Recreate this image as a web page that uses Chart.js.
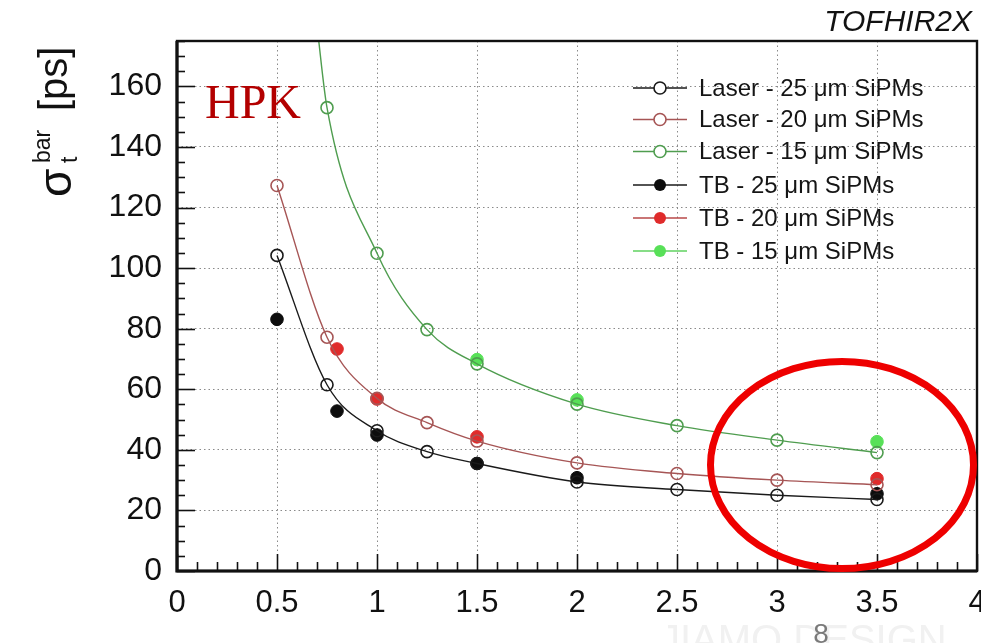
<!DOCTYPE html>
<html>
<head>
<meta charset="utf-8">
<script src="https://cdn.jsdelivr.net/npm/chart.js@4/dist/chart.umd.min.js"></script>
<style>
  html, body { margin: 0; padding: 0; background: #ffffff; }
  canvas { display: block; }
</style>
</head>
<body>
<canvas id="c" width="981" height="643"></canvas>
<script>
// Time resolution of the bar vs. overvoltage-like x quantity, HPK SiPMs (TOFHIR2X)
const xTicks = [0, 0.5, 1, 1.5, 2, 2.5, 3, 3.5, 4];
const yTicks = [0, 20, 40, 60, 80, 100, 120, 140, 160];

// Laser measurements (open markers, joined by the fitted curves)
const laserX = [0.5, 0.75, 1, 1.25, 1.5, 2, 2.5, 3, 3.5];
const laser25 = [104.2, 61.5, 46.3, 39.4, 35.5, 29.4, 26.9, 25.0, 23.6];
const laser20 = [127.3, 77.2, 57.0, 49.0, 42.9, 35.7, 32.2, 30.0, 28.5];
const laser15X = [0.75, 1, 1.25, 1.5, 2, 2.5, 3, 3.5];
const laser15 = [153.0, 104.9, 79.7, 68.4, 55.1, 48.0, 43.2, 39.1];
// the 15 um curve keeps rising past the frame top near x = 0.7
const laser15CurveLeadX = [0.7];
const laser15CurveLead = [180];

// Test-beam measurements (filled markers)
const tb25X = [0.5, 0.8, 1, 1.5, 2, 3.5];
const tb25 = [83.1, 52.8, 44.9, 35.5, 30.8, 25.5];
const tb20X = [0.8, 1, 1.5, 3.5];
const tb20 = [73.3, 56.8, 44.3, 30.5];
const tb15X = [1.5, 2, 3.5];
const tb15 = [69.8, 56.5, 42.7];

const seriesLabels = [
  'Laser - 25 \u03BCm SiPMs', 'Laser - 20 \u03BCm SiPMs', 'Laser - 15 \u03BCm SiPMs',
  'TB - 25 \u03BCm SiPMs', 'TB - 20 \u03BCm SiPMs', 'TB - 15 \u03BCm SiPMs'
];

// highlighted region (data units): centre and half-axes
const ringCenter = [3.325, 35.0];
const ringRadii = [0.6575, 34.2];

const pts = (xs, ys) => xs.map((x, i) => ({ x: x, y: ys[i] }));

const C_BLACK = '#1a1a1a';
const C_RED_LINE = '#a65555';
const C_GREEN_LINE = '#4f9d4f';
const C_RED_FILL = '#e02b2b';
const C_GREEN_FILL = '#58e058';

function laserSet(label, data, color, radii) {
  return {
    label: label, data: data, showLine: true,
    borderColor: color, borderWidth: 1.4,
    cubicInterpolationMode: 'monotone',
    pointStyle: 'circle', pointRadius: radii || 6, pointBorderWidth: 1.6,
    pointBorderColor: color, pointBackgroundColor: 'rgba(255,255,255,0)',
    pointHoverRadius: 6, legendLine: color, filled: false
  };
}
function tbSet(label, data, color, lineColor) {
  return {
    label: label, data: data, showLine: false,
    borderColor: color, backgroundColor: color,
    pointStyle: 'circle', pointRadius: 6.3, pointBorderWidth: 1,
    pointBorderColor: color, pointBackgroundColor: color,
    legendLine: lineColor, filled: true
  };
}

const green15Data = pts(laser15CurveLeadX, laser15CurveLead).concat(pts(laser15X, laser15));
const green15Radii = green15Data.map((p, i) => i < laser15CurveLeadX.length ? 0 : 6);

const datasets = [
  laserSet(seriesLabels[0], pts(laserX, laser25), C_BLACK),
  laserSet(seriesLabels[1], pts(laserX, laser20), C_RED_LINE),
  laserSet(seriesLabels[2], green15Data, C_GREEN_LINE, green15Radii),
  tbSet(seriesLabels[3], pts(tb25X, tb25), '#0d0d0d', C_BLACK),
  tbSet(seriesLabels[4], pts(tb20X, tb20), C_RED_FILL, '#b84848'),
  tbSet(seriesLabels[5], pts(tb15X, tb15), C_GREEN_FILL, '#5fd25f')
];

const SANS = '"Liberation Sans", Arial, Helvetica, sans-serif';

// frame, inward tick marks, annotations and the hand-placed legend
const decorations = {
  id: 'decorations',
  afterDraw(chart) {
    const ctx = chart.ctx;
    const a = chart.chartArea;
    const xs = chart.scales.x, ys = chart.scales.y;
    ctx.save();

    // inward tick marks on the bottom and left axes
    ctx.strokeStyle = '#111';
    ctx.lineWidth = 1.6;
    for (let i = 0; i <= 40; i++) {
      const v = i / 10;
      const px = Math.round(xs.getPixelForValue(v)) + 0.5;
      const len = (i % 5 === 0) ? 17 : 9;
      ctx.beginPath(); ctx.moveTo(px, a.bottom); ctx.lineTo(px, a.bottom - len); ctx.stroke();
    }
    for (let v = 0; v <= 175; v += 5) {
      const py = Math.round(ys.getPixelForValue(v)) + 0.5;
      const len = (v % 20 === 0) ? 18 : 8;
      ctx.beginPath(); ctx.moveTo(a.left, py); ctx.lineTo(a.left + len, py); ctx.stroke();
    }

    // frame
    ctx.strokeStyle = '#111';
    ctx.lineWidth = 2.4;
    ctx.strokeRect(a.left, a.top, a.right - a.left, a.bottom - a.top);
    ctx.lineWidth = 3.2;
    ctx.beginPath();
    ctx.moveTo(a.left, a.top); ctx.lineTo(a.left, a.bottom); ctx.lineTo(a.right, a.bottom);
    ctx.stroke();

    // legend
    const rowY = [88, 119.5, 151.5, 185, 218, 251];
    ctx.font = '24px ' + SANS;
    ctx.textBaseline = 'middle';
    ctx.textAlign = 'left';
    chart.data.datasets.forEach((ds, i) => {
      const y = rowY[i];
      ctx.strokeStyle = ds.legendLine;
      ctx.lineWidth = 1.5;
      ctx.beginPath(); ctx.moveTo(633, y); ctx.lineTo(687, y); ctx.stroke();
      ctx.beginPath(); ctx.arc(660, y, 6, 0, Math.PI * 2);
      if (ds.filled) {
        ctx.fillStyle = ds.pointBackgroundColor; ctx.fill();
      } else {
        ctx.fillStyle = '#ffffff'; ctx.fill();
        ctx.strokeStyle = ds.pointBorderColor; ctx.lineWidth = 1.6; ctx.stroke();
      }
      ctx.fillStyle = '#151515';
      ctx.fillText(ds.label, 699, y + 1);
    });

    // HPK tag
    ctx.fillStyle = '#b30000';
    ctx.font = '48px "Liberation Serif", "Times New Roman", serif';
    ctx.textBaseline = 'alphabetic';
    ctx.fillText('HPK', a.left + 28, a.top + 77);

    // highlighted region
    ctx.strokeStyle = '#ee0000';
    ctx.lineWidth = 7;
    const cx = xs.getPixelForValue(ringCenter[0]);
    const cy = ys.getPixelForValue(ringCenter[1]);
    const rx = Math.abs(xs.getPixelForValue(ringCenter[0] + ringRadii[0]) - cx);
    const ry = Math.abs(ys.getPixelForValue(ringCenter[1] + ringRadii[1]) - cy);
    ctx.beginPath(); ctx.ellipse(cx, cy, rx, ry, 0, 0, Math.PI * 2); ctx.stroke();

    // header label
    ctx.fillStyle = '#111';
    ctx.font = 'italic 30px ' + SANS;
    ctx.textAlign = 'right';
    ctx.fillText('TOFHIR2X', 972, 31);

    // y-axis title: sigma_t^bar [ps], rotated
    ctx.save();
    ctx.rotate(-Math.PI / 2);
    ctx.textAlign = 'left';
    ctx.fillStyle = '#111';
    ctx.font = '46px ' + SANS;
    ctx.fillText('\u03C3', -197, 71);
    ctx.font = '23px ' + SANS;
    ctx.fillText('bar', -163, 50);
    ctx.fillText('t', -163, 77);
    ctx.font = '40px ' + SANS;
    ctx.fillText('[ps]', -111, 67);
    ctx.restore();

    // footer: faint watermark and page number
    ctx.fillStyle = '#f1f1f1';
    ctx.font = '40px ' + SANS;
    ctx.textAlign = 'left';
    ctx.fillText('JIAMO DESIGN', 660, 653);
    ctx.fillStyle = '#7a7a7a';
    ctx.font = '28px ' + SANS;
    ctx.textAlign = 'center';
    ctx.fillText('8', 821, 643);

    ctx.restore();
  }
};

new Chart(document.getElementById('c'), {
  type: 'scatter',
  data: { datasets: datasets },
  options: {
    responsive: false,
    animation: false,
    events: [],
    layout: { autoPadding: false, padding: { top: 41, right: 4, left: 0, bottom: 0 } },
    plugins: { legend: { display: false }, tooltip: { enabled: false } },
    scales: {
      x: {
        type: 'linear', min: 0, max: 4,
        afterFit(s) { s.height = 72; s.paddingLeft = 0; s.paddingRight = 0; },
        afterBuildTicks(s) { s.ticks = xTicks.map(v => ({ value: v })); },
        border: { display: false, dash: [1.5, 3] },
        grid: { color: '#8a8a8a', lineWidth: 1, drawTicks: false },
        ticks: {
          padding: 14, color: '#111', maxRotation: 0, autoSkip: false,
          font: { family: SANS, size: 31 },
          callback: v => String(v)
        }
      },
      y: {
        type: 'linear', min: 0, max: 175,
        afterFit(s) { s.width = 177; s.paddingTop = 0; s.paddingBottom = 0; },
        afterBuildTicks(s) { s.ticks = yTicks.map(v => ({ value: v })); },
        border: { display: false, dash: [1.5, 3] },
        grid: { color: '#8a8a8a', lineWidth: 1, drawTicks: false },
        ticks: {
          padding: 15, color: '#111', autoSkip: false,
          font: { family: SANS, size: 32 },
          callback: v => String(v)
        }
      }
    }
  },
  plugins: [decorations]
});
</script>
</body>
</html>
